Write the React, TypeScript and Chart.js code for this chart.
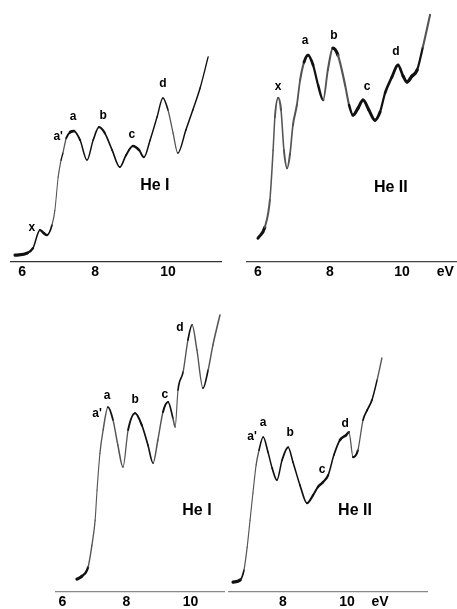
import React, { useEffect, useRef } from "react";
import { Chart, registerables } from "chart.js";

Chart.register(...registerables);

const FONT = '"Liberation Sans", Arial, Helvetica, sans-serif';

// ---------- Top left: He I ----------
const tlEnergy = [5.81, 6.14, 6.3, 6.49, 6.6, 6.68, 6.82, 6.9, 6.99, 7.07, 7.12, 7.21, 7.32, 7.42, 7.59, 7.78, 7.95, 8.11, 8.27, 8.47, 8.68, 8.85, 9.04, 9.21, 9.34, 9.51, 9.7, 9.86, 10.0, 10.14, 10.27, 10.49, 10.68, 10.88, 11.1];
const tlIntensity = [2.3, 3.1, 5.0, 11.9, 10.7, 10.0, 13.8, 19.5, 32.2, 38.7, 41.4, 47.1, 49.4, 49.8, 46.4, 38.7, 46.4, 51.3, 49.0, 42.5, 36.0, 40.6, 44.1, 42.5, 39.8, 46.4, 55.2, 62.5, 57.9, 49.0, 41.4, 50.2, 57.9, 66.3, 78.2];
const tlPeakNames = ["x", "a'", "a", "b", "c", "d", "He I"];
const tlPeakEnergy = [6.27, 6.99, 7.4, 8.22, 9.01, 9.86, 9.64];
const tlPeakIntensity = [13.0, 47.5, 55.2, 55.9, 48.3, 67.8, 29.1];
const tlTicks = [6, 8, 10];
const tlTickText = ["6", "8", "10"];

// ---------- Top right: He II ----------
const trEnergy = [6.0, 6.19, 6.33, 6.42, 6.47, 6.56, 6.64, 6.72, 6.81, 6.89, 6.97, 7.08, 7.17, 7.28, 7.39, 7.53, 7.67, 7.81, 7.94, 8.08, 8.22, 8.42, 8.53, 8.64, 8.78, 8.92, 9.08, 9.25, 9.39, 9.53, 9.72, 9.89, 10.03, 10.14, 10.28, 10.42, 10.58, 10.78];
const trIntensity = [8.8, 13.0, 23.4, 42.5, 55.2, 62.5, 57.9, 42.5, 35.6, 41.1, 52.1, 59.8, 69.3, 76.2, 78.9, 75.1, 67.4, 61.7, 73.2, 81.6, 78.9, 67.4, 59.8, 55.9, 58.6, 61.7, 57.9, 54.0, 57.1, 64.4, 70.5, 75.1, 70.9, 68.6, 70.9, 73.2, 82.0, 94.3];
const trPeakNames = ["x", "a", "b", "c", "d", "He II"];
const trPeakEnergy = [6.56, 7.31, 8.11, 9.03, 9.83, 9.69];
const trPeakIntensity = [67.0, 84.3, 86.2, 67.0, 80.1, 28.0];
const trTicks = [6, 8, 10, 11.2];
const trTickText = ["6", "8", "10", "eV"];

// ---------- Bottom left: He I ----------
const blEnergy = [6.45, 6.61, 6.8, 6.92, 7.02, 7.08, 7.17, 7.27, 7.42, 7.58, 7.73, 7.89, 8.05, 8.27, 8.48, 8.67, 8.83, 8.98, 9.14, 9.3, 9.45, 9.52, 9.61, 9.77, 9.92, 10.05, 10.2, 10.39, 10.55, 10.7, 10.92];
const blIntensity = [4.0, 5.0, 8.0, 15.3, 23.6, 33.6, 45.8, 53.5, 61.1, 56.8, 48.5, 41.2, 53.5, 59.1, 55.1, 48.5, 42.5, 50.2, 59.5, 62.8, 57.5, 54.5, 66.8, 72.8, 83.4, 88.4, 80.1, 67.4, 73.4, 81.7, 91.7];
const blPeakNames = ["a'", "a", "b", "c", "d", "He I"];
const blPeakEnergy = [7.08, 7.39, 8.27, 9.2, 9.67, 10.2];
const blPeakIntensity = [59.1, 64.8, 63.5, 65.4, 87.4, 26.9];
const blTicks = [6, 8, 10];
const blTickText = ["6", "8", "10"];

// ---------- Bottom right: He II ----------
const brEnergy = [6.44, 6.66, 6.78, 6.88, 6.97, 7.06, 7.16, 7.25, 7.38, 7.53, 7.66, 7.81, 7.97, 8.16, 8.31, 8.53, 8.75, 8.94, 9.09, 9.25, 9.41, 9.59, 9.78, 9.97, 10.06, 10.19, 10.34, 10.5, 10.63, 10.78, 10.94, 11.09];
const brIntensity = [3.0, 3.7, 7.0, 14.6, 23.6, 32.6, 41.9, 46.8, 51.2, 46.2, 40.9, 36.9, 43.5, 47.8, 42.9, 35.2, 29.2, 31.9, 34.6, 36.2, 38.5, 45.2, 50.2, 51.8, 52.8, 44.5, 46.8, 56.8, 60.1, 63.5, 70.1, 77.4];
const brPeakNames = ["a'", "a", "b", "c", "d", "He II"];
const brPeakEnergy = [7.03, 7.38, 8.22, 9.22, 9.94, 10.25];
const brPeakIntensity = [51.2, 56.1, 52.5, 40.2, 55.5, 26.9];
const brTicks = [8, 10, 11.03];
const brTickText = ["8", "10", "eV"];

const peakLabelPlugin = {
  id: "peakLabels",
  afterDatasetsDraw(chart: any, _args: any, opts: any) {
    const { ctx } = chart;
    const xs = chart.scales.x;
    const ys = chart.scales.y;
    ctx.save();
    ctx.fillStyle = "#000";
    ctx.textAlign = "center";
    ctx.textBaseline = "middle";
    const names: string[] = opts.names || [];
    names.forEach((t, i) => {
      const big = t.startsWith("He");
      ctx.font = `bold ${big ? 16 : 12}px ${FONT}`;
      ctx.fillText(t, xs.getPixelForValue(opts.energy[i]), ys.getPixelForValue(opts.intensity[i]));
    });
    ctx.restore();
  },
};

type PanelProps = {
  energy: number[];
  intensity: number[];
  names: string[];
  peakEnergy: number[];
  peakIntensity: number[];
  ticks: number[];
  tickText: string[];
  xMin: number;
  xMax: number;
  left: number;
  top: number;
  width: number;
  height: number;
  weight: number;
  axisColor: string;
  axisDash: number[];
};

function Panel(p: PanelProps) {
  const ref = useRef<HTMLCanvasElement>(null);
  useEffect(() => {
    const chart = new Chart(ref.current as HTMLCanvasElement, {
      type: "line",
      data: {
        datasets: [
          {
            data: p.energy.map((x, i) => ({ x, y: p.intensity[i] })),
            borderColor: "#111",
            borderWidth: 1.5,
            pointRadius: 0,
            fill: false,
            cubicInterpolationMode: "monotone",
            borderCapStyle: "round",
            borderJoinStyle: "round",
            segment: {
              borderWidth: (ctx: any) => {
                const dx = Math.abs(ctx.p1.x - ctx.p0.x) || 0.1;
                const slope = Math.abs(ctx.p1.y - ctx.p0.y) / dx;
                return p.weight * (0.7 + 2.6 / (1 + slope));
              },
              borderColor: (ctx: any) => {
                const dx = Math.abs(ctx.p1.x - ctx.p0.x) || 0.1;
                const slope = Math.abs(ctx.p1.y - ctx.p0.y) / dx;
                return slope > 4 ? "#555" : "#111";
              },
            },
          } as any,
        ],
      },
      options: {
        animation: false,
        responsive: false,
        devicePixelRatio: 1,
        layout: { padding: 0 },
        plugins: {
          legend: { display: false },
          tooltip: { enabled: false },
          peakLabels: { names: p.names, energy: p.peakEnergy, intensity: p.peakIntensity },
        } as any,
        scales: {
          x: {
            type: "linear",
            min: p.xMin,
            max: p.xMax,
            afterBuildTicks: (s: any) => {
              s.ticks = p.ticks.map((v) => ({ value: v }));
            },
            ticks: {
              autoSkip: false,
              maxRotation: 0,
              padding: 3,
              color: "#000",
              font: { family: FONT, size: 14, weight: "bold" },
              callback: (_v: any, i: number) => p.tickText[i],
            },
            grid: { display: false, drawTicks: false },
            border: { display: true, color: p.axisColor, width: 1.2, dash: p.axisDash },
          },
          y: { display: false, min: 0, max: 100 },
        },
      } as any,
      plugins: [peakLabelPlugin],
    });
    return () => chart.destroy();
  }, []);
  return (
    <canvas
      ref={ref}
      width={p.width}
      height={p.height}
      style={{ position: "absolute", left: p.left, top: p.top, width: p.width, height: p.height }}
    />
  );
}

export default function App() {
  return (
    <div
      style={{
        position: "fixed",
        left: 0,
        top: 0,
        width: 457,
        height: 609,
        overflow: "hidden",
        background: "#fff",
      }}
    >
      <Panel
        energy={tlEnergy}
        intensity={tlIntensity}
        names={tlPeakNames}
        peakEnergy={tlPeakEnergy}
        peakIntensity={tlPeakIntensity}
        ticks={tlTicks}
        tickText={tlTickText}
        xMin={5.67}
        xMax={11.48}
        left={10}
        top={0}
        width={212}
        height={284}
        weight={1.1}
        axisColor="#333"
        axisDash={[12, 3]}
      />
      <Panel
        energy={trEnergy}
        intensity={trIntensity}
        names={trPeakNames}
        peakEnergy={trPeakEnergy}
        peakIntensity={trPeakIntensity}
        ticks={trTicks}
        tickText={trTickText}
        xMin={5.667}
        xMax={11.528}
        left={246}
        top={0}
        width={211}
        height={284}
        weight={1.8}
        axisColor="#444"
        axisDash={[4, 6]}
      />
      <Panel
        energy={blEnergy}
        intensity={blIntensity}
        names={blPeakNames}
        peakEnergy={blPeakEnergy}
        peakIntensity={blPeakIntensity}
        ticks={blTicks}
        tickText={blTickText}
        xMin={5.766}
        xMax={11.078}
        left={55}
        top={290}
        width={170}
        height={324}
        weight={1.3}
        axisColor="#888"
        axisDash={[3, 9]}
      />
      <Panel
        energy={brEnergy}
        intensity={brIntensity}
        names={brPeakNames}
        peakEnergy={brPeakEnergy}
        peakIntensity={brPeakIntensity}
        ticks={brTicks}
        tickText={brTickText}
        xMin={6.281}
        xMax={12.531}
        left={228}
        top={290}
        width={200}
        height={324}
        weight={1.2}
        axisColor="#888"
        axisDash={[3, 9]}
      />
    </div>
  );
}
